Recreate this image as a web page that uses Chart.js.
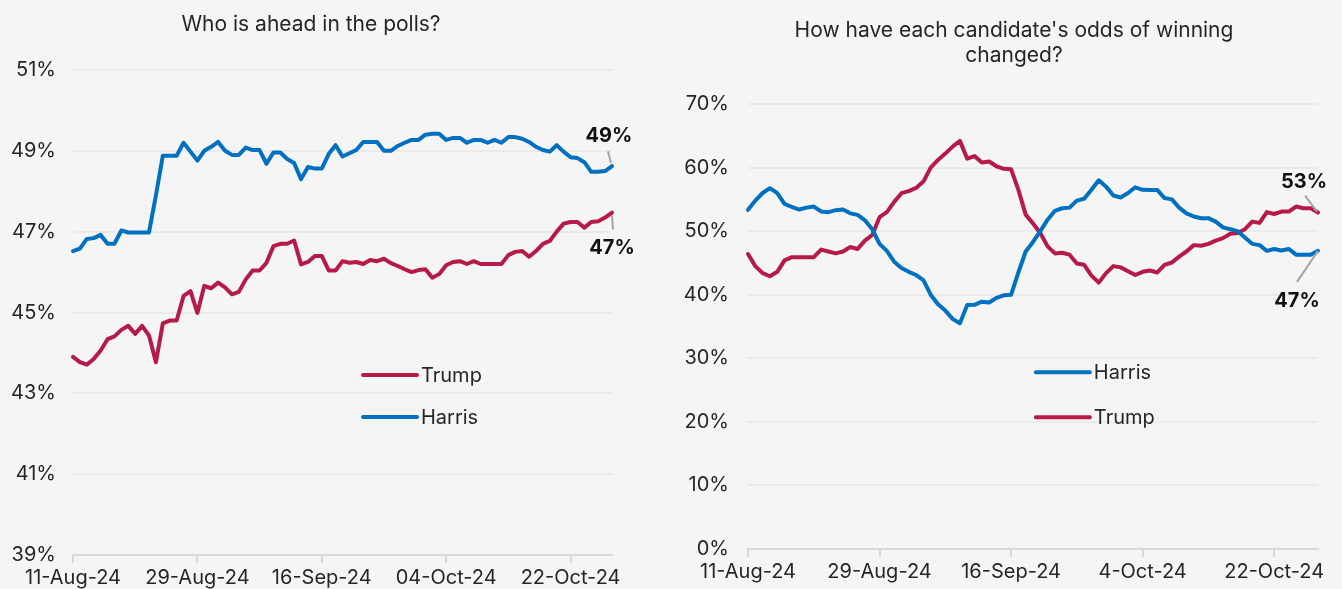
<!DOCTYPE html>
<html>
<head>
<meta charset="utf-8">
<script src="https://cdn.jsdelivr.net/npm/chart.js@4.4.1/dist/chart.umd.min.js"></script>
<style>
    body { margin: 0; background: #f5f5f5; width: 1342px; height: 589px; overflow: hidden; position: relative; font-family: Inter, sans-serif; }
    .box { position: absolute; top: 0; height: 589px; }
    #pollsBox { left: 0; width: 660px; }
    #oddsBox { left: 660px; width: 682px; }
    .title { position: absolute; text-align: center; font-size: 21px; line-height: 25px; color: #262626; }
    #pollsTitle { left: 111px; width: 400px; top: 11px; }
    #oddsTitle { left: 764px; width: 500px; top: 17px; }
</style>
</head>
<body>
<div class="box" id="pollsBox"><canvas id="polls"></canvas></div>
<div class="box" id="oddsBox"><canvas id="odds"></canvas></div>
<div class="title" id="pollsTitle">Who is ahead in the polls?</div>
<div class="title" id="oddsTitle">How have each candidate's odds of winning<br>changed?</div>
<script>
const HARRIS = "#0070c0"
const TRUMP = "#b51a48"
const TEXT = "#262626"

// tick labels every 18 days, starting 11-Aug-24
const pollTickLabels = ["11-Aug-24", "29-Aug-24", "16-Sep-24", "04-Oct-24", "22-Oct-24"]
const oddsTickLabels = ["11-Aug-24", "29-Aug-24", "16-Sep-24", "4-Oct-24", "22-Oct-24"]

// daily polling average (%), 11-Aug-24 .. 28-Oct-24
const pollHarris = [
    46.52, 46.58, 46.82, 46.84, 46.92, 46.7, 46.7, 47.03, 46.98, 46.98,
    46.98, 46.98, 47.9, 48.88, 48.88, 48.88, 49.2, 48.98, 48.76, 49.0,
    49.1, 49.22, 49.0, 48.9, 48.9, 49.08, 49.02, 49.02, 48.68, 48.96,
    48.96, 48.8, 48.7, 48.3, 48.6, 48.56, 48.56, 48.92, 49.14, 48.86,
    48.94, 49.02, 49.22, 49.22, 49.22, 49.0, 49.0, 49.12, 49.2, 49.27,
    49.27, 49.4, 49.42, 49.42, 49.27, 49.32, 49.32, 49.2, 49.27, 49.27,
    49.2, 49.27, 49.2, 49.34, 49.34, 49.3, 49.22, 49.1, 49.02, 48.98,
    49.14, 48.98, 48.84, 48.82, 48.72, 48.48, 48.48, 48.5, 48.62
]
const pollTrump = [
    43.9, 43.77, 43.71, 43.85, 44.06, 44.34, 44.41, 44.57, 44.67, 44.47,
    44.67, 44.43, 43.77, 44.73, 44.8, 44.8, 45.41, 45.53, 44.99, 45.66,
    45.6, 45.74, 45.62, 45.45, 45.51, 45.82, 46.04, 46.04, 46.23, 46.64,
    46.7, 46.7, 46.78, 46.19, 46.25, 46.4, 46.4, 46.04, 46.04, 46.27,
    46.23, 46.25, 46.2, 46.3, 46.27, 46.33, 46.22, 46.15, 46.07, 46.0,
    46.05, 46.07, 45.86, 45.95, 46.17, 46.25, 46.27, 46.2, 46.27, 46.2,
    46.2, 46.2, 46.2, 46.42, 46.5, 46.52, 46.38, 46.52, 46.7, 46.77,
    47.0, 47.2, 47.24, 47.24, 47.1, 47.24, 47.26, 47.35, 47.47
]

// daily odds of winning (%)
const oddsHarris = [
    53.35, 54.8, 56.0, 56.76, 55.97, 54.3, 53.8, 53.4, 53.7, 53.87,
    53.1, 52.99, 53.3, 53.4, 52.8, 52.56, 51.7, 50.3, 48.0, 46.9,
    45.2, 44.2, 43.6, 43.1, 42.3, 40.0, 38.5, 37.5, 36.2, 35.5,
    38.4, 38.41, 38.9, 38.78, 39.5, 39.9, 39.98, 43.5, 46.8, 48.3,
    50.0, 51.8, 53.2, 53.6, 53.7, 54.8, 55.1, 56.5, 58.0, 57.0,
    55.6, 55.3, 56.0, 56.9, 56.5, 56.49, 56.49, 55.2, 55.0, 53.7,
    52.8, 52.3, 52.04, 52.04, 51.5, 50.6, 50.3, 50.0, 49.0, 48.0,
    47.8, 46.9, 47.2, 46.95, 47.2, 46.3, 46.27, 46.27, 46.9
]
const oddsTrump = [
    46.4, 44.5, 43.4, 42.9, 43.6, 45.4, 45.9, 45.9, 45.9, 45.9,
    47.1, 46.8, 46.5, 46.8, 47.5, 47.2, 48.5, 49.4, 52.2, 53.0,
    54.6, 55.97, 56.3, 56.8, 57.8, 60.0, 61.2, 62.2, 63.3, 64.2,
    61.4, 61.8, 60.8, 60.95, 60.2, 59.8, 59.75, 56.5, 52.6, 51.2,
    49.7, 47.6, 46.5, 46.6, 46.3, 44.9, 44.7, 43.0, 41.9, 43.4,
    44.5, 44.3, 43.7, 43.1, 43.6, 43.8, 43.5, 44.7, 45.07, 46.0,
    46.8, 47.8, 47.7, 48.0, 48.5, 48.9, 49.6, 49.7, 50.3, 51.5,
    51.3, 53.0, 52.7, 53.08, 53.08, 53.87, 53.6, 53.6, 52.92
]

Chart.defaults.font.family = "Inter"
Chart.defaults.font.size = 20
Chart.defaults.color = TEXT

function toPoints(values) {
    return values.map((v, i) => ({ x: i, y: v }))
}

function series(label, values, color) {
    return {
        label,
        data: toPoints(values),
        borderColor: color,
        backgroundColor: color,
        borderWidth: 4,
        pointRadius: 0,
        tension: 0,
        borderJoinStyle: "round",
        borderCapStyle: "round",
        clip: false
    }
}

// legend drawn inside the plot area
const insideLegend = {
    id: "insideLegend",
    afterDatasetsDraw(chart, args, opts) {
        const { ctx, chartArea } = chart
        const x = chartArea.left + chartArea.width * opts.x
        let y = chartArea.top + chartArea.height * opts.y
        ctx.save()
        ctx.font = "20px Inter"
        ctx.textBaseline = "middle"
        ctx.textAlign = "left"
        ctx.lineCap = "round"
        chart.data.datasets.forEach(ds => {
            ctx.strokeStyle = ds.borderColor
            ctx.lineWidth = 4
            ctx.beginPath()
            ctx.moveTo(x, y)
            ctx.lineTo(x + 54, y)
            ctx.stroke()
            ctx.fillStyle = TEXT
            ctx.fillText(ds.label, x + 58, y + 1)
            y += opts.gap
        })
        ctx.restore()
    }
}

// last value label with a small leader line
const endLabels = {
    id: "endLabels",
    afterDatasetsDraw(chart, args, opts) {
        const { ctx } = chart
        ctx.save()
        opts.items.forEach(item => {
            const ds = chart.data.datasets[item.dataset]
            const pts = chart.getDatasetMeta(item.dataset).data
            const last = pts[pts.length - 1]
            const value = ds.data[ds.data.length - 1].y

            ctx.strokeStyle = "#a6a6a6"
            ctx.lineWidth = 2
            ctx.beginPath()
            ctx.moveTo(last.x + item.lead[0], last.y + item.lead[1])
            ctx.lineTo(last.x + item.lead[2], last.y + item.lead[3])
            ctx.stroke()

            ctx.fillStyle = "#111111"
            ctx.font = "bold 20px Inter"
            ctx.textAlign = "center"
            ctx.textBaseline = "middle"
            ctx.fillText(Math.round(value) + "%", last.x + item.dx, last.y + item.dy)
        })
        ctx.restore()
    }
}

function lineChart(id, datasets, tickLabels, setup) {
    const lastDay = datasets[0].data.length - 1
    return new Chart(document.getElementById(id), {
        type: "line",
        data: { datasets },
        options: {
            responsive: true,
            maintainAspectRatio: false,
            animation: false,
            layout: { padding: { left: 0, right: setup.padRight, top: setup.padTop, bottom: 0 } },
            plugins: {
                legend: { display: false },
                tooltip: { enabled: false },
                title: { display: false },
                insideLegend: setup.legend,
                endLabels: { items: setup.labels }
            },
            scales: {
                x: {
                    type: "linear",
                    min: 0,
                    max: lastDay,
                    ticks: {
                        stepSize: 18,
                        includeBounds: false,
                        autoSkip: false,
                        maxRotation: 0,
                        padding: 3,
                        callback: v => tickLabels[v / 18]
                    },
                    grid: { drawOnChartArea: false, drawTicks: true, tickLength: 8, color: "#d9d9d9", lineWidth: 2 },
                    border: { display: true, color: "#d9d9d9", width: 2 },
                    afterFit: s => { s.height = setup.xHeight }
                },
                y: {
                    min: setup.yMin,
                    max: setup.yMax,
                    ticks: { stepSize: setup.yStep, padding: setup.yPad, callback: v => v + "%" },
                    grid: { color: "#ebebeb", lineWidth: 2, drawTicks: false },
                    border: { display: false },
                    afterFit: s => { s.width = setup.yWidth }
                }
            }
        },
        plugins: [insideLegend, endLabels]
    })
}

lineChart("polls", [series("Trump", pollTrump, TRUMP), series("Harris", pollHarris, HARRIS)], pollTickLabels, {
    padTop: 70,
    padRight: 48,
    yWidth: 73,
    yPad: 17,
    xHeight: 34,
    yMin: 39,
    yMax: 51,
    yStep: 2,
    legend: { x: 0.538, y: 0.629, gap: 42 },
    labels: [
        { dataset: 1, dx: -3, dy: -30, lead: [-1, -3, -4, -15] },
        { dataset: 0, dx: 0, dy: 35, lead: [0, 3, 1, 17] }
    ]
})

lineChart("odds", [series("Harris", oddsHarris, HARRIS), series("Trump", oddsTrump, TRUMP)], oddsTickLabels, {
    padTop: 104,
    padRight: 24,
    yWidth: 88,
    yPad: 19,
    xHeight: 40,
    yMin: 0,
    yMax: 70,
    yStep: 10,
    legend: { x: 0.505, y: 0.603, gap: 45 },
    labels: [
        { dataset: 1, dx: -14, dy: -31, lead: [-13, -17, -1, -1] },
        { dataset: 0, dx: -21, dy: 50, lead: [0, 0, -21, 31] }
    ]
})
</script>
</body>
</html>
